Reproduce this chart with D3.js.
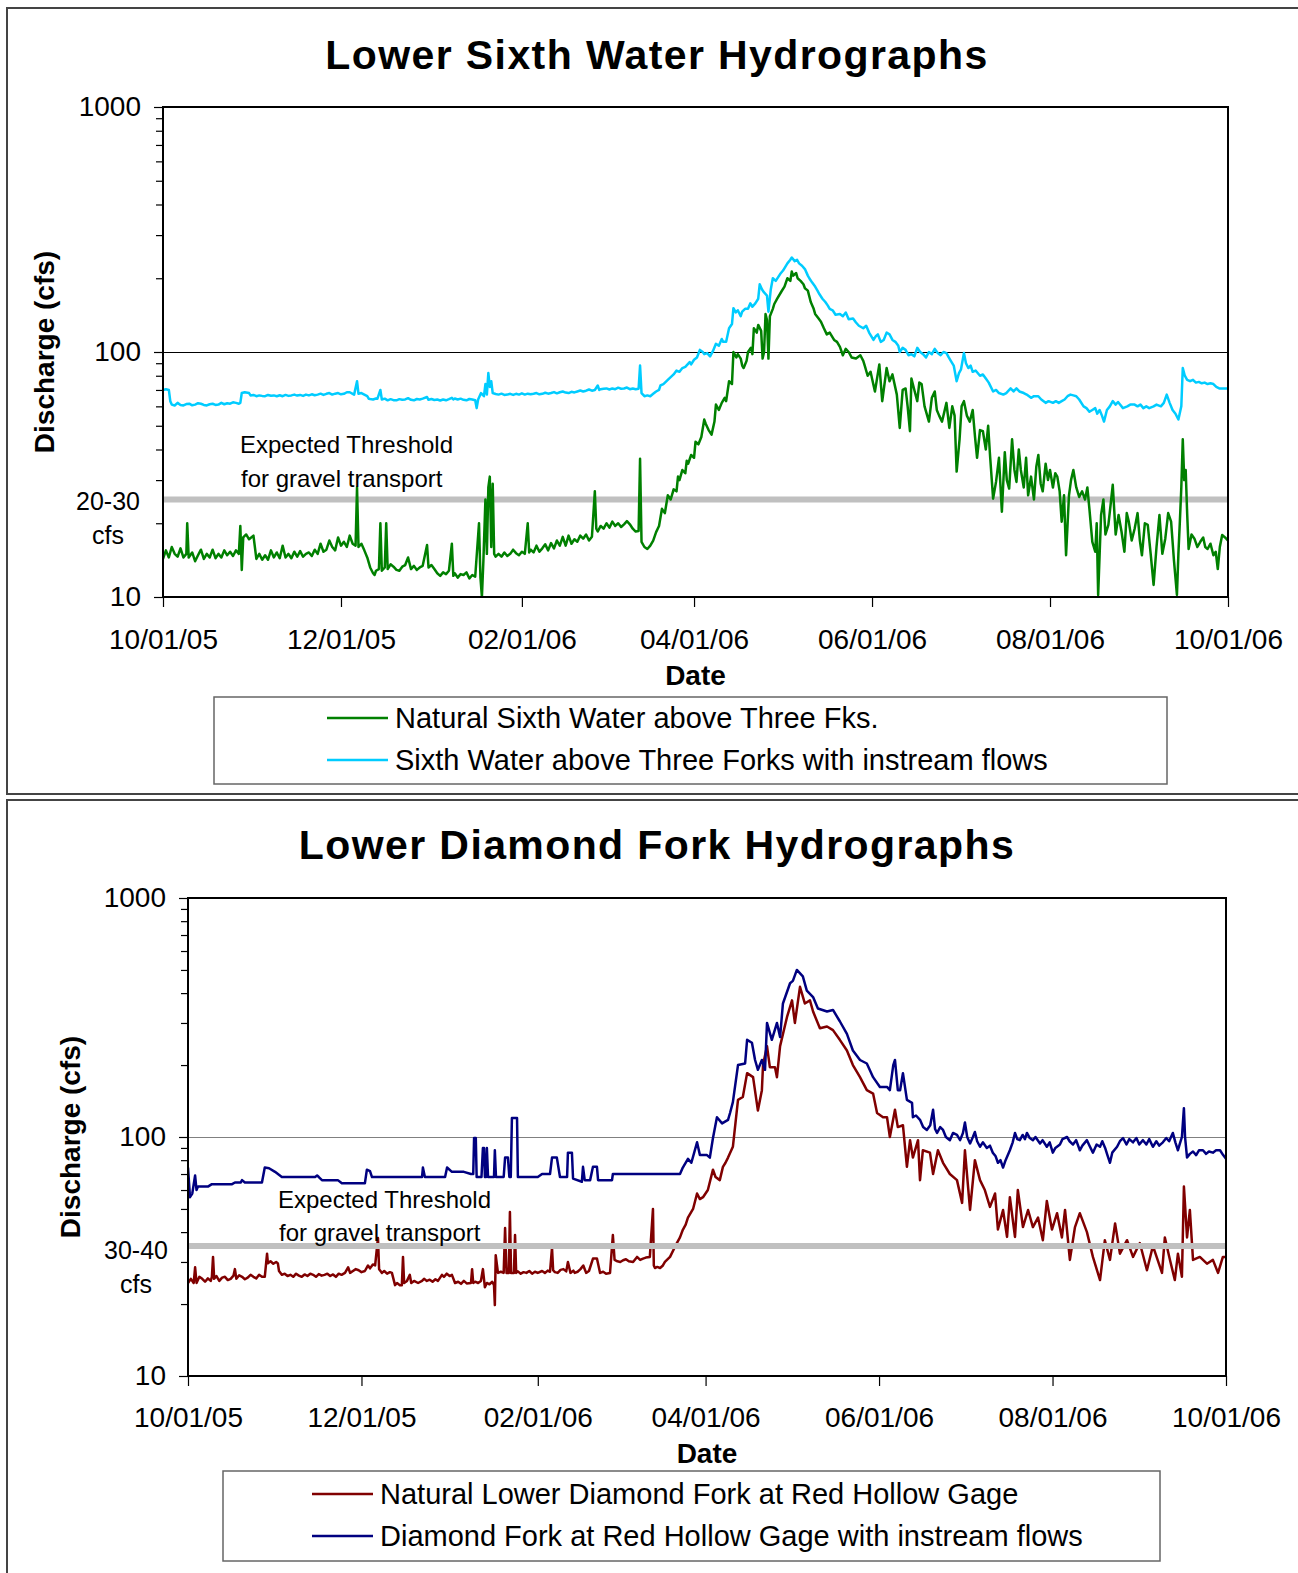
<!DOCTYPE html>
<html>
<head>
<meta charset="utf-8">
<script src="https://cdn.jsdelivr.net/npm/d3@7"></script>
<style>
  body { margin: 0; background: #fff; }
  svg { display: block; }
  text { font-family: "Liberation Sans", Arial, sans-serif; fill: #000; }
</style>
</head>
<body>
<svg id="chart" width="1298" height="1573"></svg>
<script>
// ---- axis values ----
const tickDates = ["2005-10-01", "2005-12-01", "2006-02-01", "2006-04-01", "2006-06-01", "2006-08-01", "2006-10-01"];
const majorTicks = [10, 100, 1000];
const minorTicks = [20, 30, 40, 50, 60, 70, 80, 90, 200, 300, 400, 500, 600, 700, 800, 900];

// ---- gravel transport thresholds (cfs) ----
const sixthThreshold = 25;
const diamondThreshold = 35;

// ---- discharge, [days since 10/01/05, cfs] ----
const sixthNatural = [[0,14.3],[1,15.5],[2,14.5],[3,16],[4,15],[5,14.6],[6,15.8],[7,14.5],[8,15],[8.3,20],[8.8,14.5],[10,15.2],[11,14],[12,14.8],[13,15.6],[14,14.3],[15,15],[16,14.5],[17,15.6],[18,14.4],[19,15],[20,14.5],[21,15.5],[22,14.8],[23,15.3],[24,14.7],[25,15.5],[26,15],[26.5,19.5],[27,12.9],[27.5,17.5],[28.5,18],[29.5,17.2],[31,17.8],[32,14.3],[33,15],[34,14.2],[35,14.8],[36,14.2],[37,15.5],[38,14.5],[39,15.2],[40,14.4],[41,16.2],[42,14.5],[43,15],[44,14.4],[45,15.3],[46,14.6],[47,15.4],[48,14.6],[49,15],[50,15.2],[51,14.7],[52,15.6],[53,15],[54,16.5],[55,15.3],[56,15.6],[57,17],[58,16],[59,15.5],[60,17.5],[61,16.2],[62,16.8],[63,16],[64,17.8],[65,16.5],[66,16.2],[66.5,28],[67,16],[68,16.5],[69,15.5],[70,14.5],[71,13.2],[72,12.5],[72.5,12.3],[73,12.8],[74,13],[74.5,20],[75,12.8],[76,13.2],[76.5,20],[77,13],[78,13.6],[79,13.3],[80,12.9],[81,12.8],[82,13.3],[83,13.5],[84,14.5],[85,13],[86,13.4],[87,12.9],[88,13.2],[89,13.4],[90.5,16.3],[91,13.2],[92,13.5],[93,13],[94,12.5],[95,12.2],[96,12.6],[97,12.4],[98,12.8],[99,16.5],[99.5,12.2],[100,12.5],[101,12],[102,12.4],[103,12.3],[104,12.6],[105,11.9],[106,12.3],[107,12.1],[108.3,20],[108.8,12],[109.3,10],[109.8,14],[110.5,25],[111,15],[111.5,28],[112,31],[112.5,16],[113,29],[113.5,15],[114,14.6],[115,15],[116,14.6],[117,15.2],[118,14.7],[119,15],[120,15.6],[121,15.1],[122,14.8],[123,15.3],[124,15],[125,20],[125.5,15.2],[126,15.6],[127,15.2],[128,16.2],[129,15.3],[130,15.8],[131,16.4],[132,15.5],[133,16.6],[134,15.8],[135,17],[136,16.2],[137,17.6],[138,16.2],[139,17.8],[140,16.5],[141,17.2],[142,16.8],[143,17.8],[144,17.3],[145,18],[146,17],[147,17.6],[148,27],[148.5,19],[149,18.5],[150,19.5],[151,19],[152,20],[153,19.2],[154,20.3],[155,19.5],[156,20],[157,19.3],[158,19.8],[159,20.4],[160,19.8],[161,19],[162,18.5],[163,18.6],[163.5,36.7],[164,16.8],[165,16],[166,15.7],[167,16.2],[168,17],[169,18.4],[170,19.5],[171,22.9],[172,22],[173,26],[174,25],[175,27.5],[176,27],[176.5,31],[177,30],[178,33],[179,32],[179.5,36],[180,35],[181,38],[182,37],[182.5,43],[183.5,42],[184.5,45],[185.5,53],[186,51],[187,48],[188,46],[189,52],[189.5,61],[190.5,58],[191.5,62],[192.5,65],[193,63],[194,76],[195,74],[195.5,100],[196.5,95],[197,98],[198,94],[198.5,88],[199,86],[200,92],[200.5,100],[201.5,104],[202,98],[202.5,125],[203.5,120],[204,129],[205,122],[205.5,94],[206,100],[206.5,143],[207,135],[207.5,94],[208,140],[209,150],[209.5,157],[210.5,165],[212,177],[213,185],[214,200],[215,195],[215.5,213],[216,205],[217,210],[217.5,200],[218.5,195],[219.5,189],[220,182],[221,178],[222,160],[223,150],[223.5,143],[224.5,138],[225.5,133],[226.5,125],[227.5,118],[228.5,120],[230,112],[231,110],[232,105],[233,97],[234,103],[235,100],[236,95],[237.5,94],[239,97],[240,92],[240.5,88],[241.5,80],[242.5,83],[243,78],[244,69],[245.5,89],[246.5,63],[248,86],[249,76],[250,81],[251.5,67],[252.5,49],[253.5,70],[254.5,71],[255.2,60],[256,47.5],[256.5,78],[257.5,70],[258.5,63],[259.2,75],[260,74],[261,60],[262.5,52],[263.5,65],[264.5,69],[265.2,58],[266,55],[267,52],[268.5,62],[269.5,49],[270.5,60],[271.3,55],[272,32.5],[273,44],[273.7,60],[274.5,63],[275.5,55],[276.5,52],[277.5,58],[278.3,45],[279,37],[280,48],[281,47.5],[282,40],[282.8,50],[283.5,37],[284.5,25.2],[285.5,29.5],[286.5,37],[287.5,22.3],[288.5,39],[289.2,30],[290,27.7],[291,44],[291.8,33],[292.5,29.5],[293.3,40],[294,33],[295,28],[295.8,37],[296.5,26],[297.5,31],[298.5,25],[299.3,34],[300,38],[300.8,29],[301.5,27],[302.5,35],[303.3,30],[304,33],[305,28],[305.8,32],[306.5,31],[307.3,27],[308,20.3],[308.8,26],[309.5,14.8],[310.5,26],[311.2,30],[312,33],[313,28],[314,25.6],[315,27],[316,25],[316.8,28],[317.5,22.9],[318.5,16.8],[319.5,15.3],[320,20],[320.5,10.2],[321.5,21.6],[322.3,25],[323,18],[324,19.7],[324.8,24],[325.5,28.7],[326.5,18],[327.5,21.6],[328.5,18.5],[329.5,15.3],[330.3,22],[331,20.3],[332,17],[333,19],[334,22],[334.8,17],[335.5,14.8],[336.5,20],[337.5,19.7],[338.5,15],[339.5,11.2],[340.5,16],[341.5,21.6],[342.5,15],[343.5,17.3],[344.5,22],[345.5,20.3],[346.5,14],[347.5,10.2],[348,15],[348.5,20.3],[349,28],[349.5,44],[350,30],[350.5,33],[351,22],[351.5,15.7],[352.5,18],[353.5,17.3],[354.5,16],[355.5,16.8],[356.5,17.5],[357.2,16],[358,15.7],[359,16.5],[360,14.8],[360.8,15.3],[361.5,13],[362.2,16],[363,17.9],[364,17.5],[365,17]];

const sixthInstream = [[0,70],[1,70.5],[2,70],[2.5,63],[3,61],[4,60.5],[5,62],[6,60.8],[7,60.5],[8,61.3],[9,61.5],[10,60.6],[11,61],[12,61.8],[13,61.5],[14,60.8],[15,60.5],[16,61.2],[17,61.5],[18,60.8],[19,61],[20,62],[21,61.2],[22,61.8],[23,61.5],[24,62.3],[25,62],[26,61.5],[26.5,62],[27,68],[28,68.5],[29.5,68],[30,66.5],[31,66.8],[32,66],[33,66.5],[34,66.2],[35,66],[36,66.8],[37,66.3],[38,66.5],[39,66],[40,66.6],[41,66],[42,66.8],[43,66.2],[44,66.5],[45,67],[46,66.4],[47,66.8],[48,66.2],[49,67],[50,66.5],[51,67.2],[52,66.6],[53,67],[54,67.6],[55,66.8],[56,67.5],[57,68],[58,67],[59,67.6],[60,68],[61,67.2],[62,67.5],[63,68.5],[64,68.5],[65,67.5],[65.5,67],[66.5,76],[67,67.5],[68,68],[69,67],[70,66],[70.5,64.5],[71,64.3],[72,64],[73,64.6],[73.5,64.5],[74.5,70],[75,64],[76,64.5],[77,63.5],[78,64.2],[79,63.6],[80,63.5],[81,64.2],[82,63.8],[83,64],[84,64.8],[85,63.8],[86,63.5],[87,64.3],[88,64],[89,64.5],[90.5,65.5],[91,63.8],[92,64.3],[93,63.7],[94,64],[95,63.4],[96,64],[97,63.5],[98,64.2],[99,65],[99.5,64],[100,64.6],[101,64],[102,64.5],[103,63.8],[104,63.5],[105,64.3],[106,64],[107,63.5],[107.5,59],[108,64],[109,68],[110,66],[110.5,74],[111,67],[111.5,82],[112,72],[112.5,76],[113,68],[114,67.4],[115,67],[116,67.6],[117,66.8],[118,67],[119,67.5],[120,66.8],[121,67.5],[122,67],[123,67.8],[124,67],[125,67.6],[126,67.2],[127,67.5],[128,68],[129,67.2],[130,67.5],[131,68.2],[132,67.6],[133,68],[134,68.6],[135,67.8],[136,68.5],[137,69],[138,68.3],[139,68],[140,68.8],[141,68.4],[142,69],[143,69.6],[144,69],[145,69.5],[146,70.3],[147,69.5],[148,70],[149,73],[149.5,70],[150,70.5],[151,70.8],[152,71],[153,70.3],[154,71],[155,70.5],[156,71.5],[157,70.8],[158,71],[159,71.6],[160,70.5],[161,71],[162,70.5],[163,70.8],[163.5,88],[164,68],[165,66],[166,66.5],[167,66],[168,67.5],[169,69],[170,70],[170.5,73],[171.5,74],[173,77],[174,79],[175,81],[176,84],[177,83],[178,86],[179,87],[180.5,91],[181,89],[182,93],[183,95],[184,102],[185,100],[185.5,98],[186.5,99],[187.5,96],[188.5,101],[189.5,108],[190.5,106],[191.5,113],[192,110],[193,110],[194,125],[195,130],[195.5,151],[196.3,145],[197,148],[198,140],[198.5,146],[199.5,150],[200.5,150],[201.3,158],[202,153],[203,158],[204,165],[204.5,189],[205.3,180],[206,175],[207,170],[207.5,146],[208.3,180],[209,200],[210,195],[211.5,208],[212.5,215],[214,230],[215,238],[215.5,243],[216.5,235],[217.3,238],[218,230],[219,225],[220,218],[221,205],[221.5,200],[222.5,192],[223.5,185],[224.3,178],[225,172],[226,165],[227,160],[227.8,155],[228.5,150],[229.5,148],[230.5,142],[232,143],[233,140],[234,145],[235,136],[236.5,137],[237.5,132],[238.5,128],[240,125],[241,128],[242,120],[243.5,112],[244.3,116],[245,118],[246,110],[247,112],[248,120],[249,118],[250,112],[251,110],[252,106],[252.5,100],[253.5,104],[254.5,102],[255.5,97],[256.5,98],[257.5,96],[258.5,104],[259.5,100],[260.5,98],[261.5,95],[262.5,100],[263.5,98],[264.5,103],[265.5,99],[266.5,97],[267.5,100],[268.5,99],[269.3,95],[270,92],[271,88],[272,76],[272.8,82],[273.5,85],[274.5,99],[275.2,90],[276,86],[276.8,88],[277.5,83],[278.5,84],[280,80],[281,81],[282,78],[283,75],[284.5,69],[285.5,70],[286.5,68],[288,67],[289,68],[290.5,71],[291.5,69],[292.5,71],[293.5,69],[295,68],[296,67],[297.5,65],[298.5,66],[300,66],[301,64],[302.5,62],[303.5,63],[305,62],[306,63],[307,62],[308,63],[309,64],[310,66],[311,67],[312,66.5],[313,66],[314,64],[315.5,60],[316.5,59],[317.5,57],[318.5,58],[319.5,59],[320.2,56],[321,58],[321.8,55],[322.5,52],[323.5,58],[324.5,60],[325.5,63],[326.5,61],[327.3,62.5],[328,61],[329,59],[330.5,60],[331.5,61],[333,61],[334,60],[335,61],[336,59],[337,60],[338,59],[339.5,60],[340.5,61],[342,60],[343,62],[344,67],[345,62],[346,58],[347,56],[348,53],[349,60],[349.5,86],[350.2,80],[351,77],[352,76],[353,77],[354,75],[355,75.5],[356,74.5],[357,75],[358,74],[359,74.5],[360,74],[361,72],[362,71],[363,71],[364,71],[365,71]];

const diamondNatural = [[0,24.5],[1,25.5],[2,24.5],[2.5,28.5],[3,24.5],[4,26],[5,25.5],[6,24.8],[7,25.6],[8,25],[8.4,26],[8.8,31.5],[9.2,25.5],[10,26.2],[11,25],[12,25.8],[13,26],[14,25.2],[15,25.5],[16,26.3],[16.5,28],[17,25.5],[18,26.4],[19,26],[20,25.4],[21,25.8],[22,26.5],[23,26],[24,25.6],[25,26.5],[26,26],[27,26],[27.8,32.5],[28.1,29.6],[29,30.2],[30,29.5],[31,30],[31.6,29.6],[32,27.5],[33,26.5],[34,26.8],[35,26.2],[36,26.5],[37,26],[38,26.8],[39,26.3],[40,26],[41,26.6],[42,26.2],[43,26.8],[44,26.5],[45,26],[46,26.7],[47,26.3],[48,26.5],[49,26.8],[50,26.2],[51,26.6],[52,26],[53,26.8],[54,26.5],[55.2,27],[56.3,28.5],[57,27],[58,27.5],[59,28],[60,27.7],[61,27.2],[62.2,27.5],[63.3,29],[64,28.2],[65,29.3],[65.8,29],[66.8,37.8],[67.2,28],[68.2,27],[69,27.5],[70,26.8],[71,27.2],[71.7,27],[72.8,24],[73.5,24.5],[74.5,24],[75.2,24],[75.6,31.5],[76,24.5],[77,25],[78,26.5],[78.5,24.5],[79.5,25],[80.9,24.5],[82.3,25],[83,25.5],[84,25],[85,25.3],[86,24.8],[87,25.4],[87.9,25],[89.3,26.5],[90,26],[91,26.8],[92,26.2],[92.8,26.5],[93.9,24.5],[95,24.8],[96,24.3],[97,25],[98,24.4],[99.5,24.5],[99.9,28],[100.3,24.5],[101,24.8],[102,24.5],[103,25],[103.7,28],[104.4,23.5],[105.1,24.5],[106,24.2],[107,24.8],[107.6,24],[107.9,19.8],[108.2,32],[109,27],[110,27.3],[111,27],[111.5,41.6],[112,27],[112.8,27],[113.2,48.5],[113.6,27],[114.6,27],[115,38.9],[115.4,27],[116,27.4],[117,26.8],[118,27.2],[119,27],[120,27.5],[121,26.8],[122,27.3],[123,27],[124.5,27.5],[125.5,27],[126.5,27.6],[127.3,27.3],[128,34.4],[128.4,27.7],[129,27.2],[130,27],[131,27.8],[132,28],[133,27.4],[133.6,30],[134.5,27],[135.5,27.6],[136,27],[137,27.3],[138,28],[139,29],[140,27],[141,27.5],[142.4,31],[143.8,31],[144.9,27],[146,27.3],[147,26.8],[148.4,27],[149.4,38.9],[150,30.6],[151,30.2],[152,30],[153,30.5],[154,30.8],[155,30.2],[156.5,30],[157.9,31.5],[159,30.6],[160,31],[161,31.3],[162.4,31.5],[163.5,50],[163.8,29],[164.2,28.3],[165,28.6],[166,28.3],[167,29],[167.7,30],[169.5,31.5],[171.9,36],[173,38],[174,40.9],[175,43],[175.8,46],[177.6,50],[179,58],[180,55],[181.1,56],[182.8,60],[184.6,73],[185.5,68],[187,66],[188.1,75],[189,78],[189.9,82],[191.6,91],[193.4,143],[195.1,147],[196.6,185],[198.7,178],[200.4,129],[201.8,157],[202.2,200],[203.6,240],[204.6,196],[206.4,196],[207.1,178],[208.2,240],[210.7,320],[212.4,373],[213.4,300],[215.2,425],[216.9,362],[218.7,373],[219.8,335],[222.2,285],[224.7,290],[226.8,280],[229.2,255],[231.7,230],[233.8,200],[236.3,178],[238.7,157],[240.9,152],[242.3,126],[244.4,121],[245.8,121],[246.8,100],[248.6,130],[249.6,110],[251.4,112],[252.8,75],[253.9,97],[254.9,82],[256.7,97],[257.4,66],[258.4,88],[260.9,86],[262,70],[263.7,88],[265.5,78],[267.9,70],[270.4,66],[272.2,53],[273.2,88],[275,49.5],[276.7,80],[278.5,66],[280.2,60],[282,51],[283.8,58],[284.8,41],[286.6,49.5],[288,38.2],[289,56],[290.8,38.2],[291.8,60],[293.6,42],[295.4,49.5],[297.1,42],[298.9,46],[300.6,37],[302,54],[303.8,41],[305.6,48],[307.3,38],[308.4,49.5],[310.1,30.6],[311.9,42],[313.6,48],[316.1,40],[318.2,31.5],[320.7,25.2],[322.4,37],[324.2,30.6],[326,43.5],[327.7,32.5],[330.2,37],[332.3,31.5],[334.7,36],[337.2,27.7],[339.3,35],[342.5,27],[343.5,38],[345.3,30.6],[347,25.2],[348.1,32.5],[349.5,26],[350.2,62],[351.3,38],[352.3,49.5],[353.4,30.6],[355.8,31.5],[358.3,29.5],[360.4,30.6],[362.2,27],[363.9,31.5],[365,31.5]];

const diamondInstream = [[0,74.5],[0.7,56],[1.5,58],[2.5,69],[3,60],[3.5,62],[7,62],[8.4,63.5],[15.5,63.5],[16.5,64.5],[18.5,64.5],[19,66],[20,64.5],[22.5,64.5],[26,64.5],[27,74.5],[28.5,74],[30.6,71.5],[33,68],[44.7,68],[45.4,69],[46,68],[47.1,66],[52.7,66],[54.1,64],[62.2,64],[62.9,73],[64,72],[64.7,68],[80,68],[82.3,68],[82.6,74.5],[83.3,68],[90.4,68],[91.1,74.5],[92.8,71.5],[97,71.5],[99.5,70],[100.3,70],[100.6,99],[101.2,99],[101.5,68],[103.2,68],[103.7,90],[104.1,90],[104.4,68],[104.8,68],[105.1,90],[105.5,68],[107.6,68],[107.9,88],[108.3,68],[111,68],[111.5,82],[112.5,82],[113,68],[113.5,68],[113.9,120],[115.7,120],[116,68],[123,68],[124.5,70],[127.3,70],[128,82],[129.7,82],[130.8,68],[133.3,68],[133.6,86],[135,86],[135.4,67],[138.5,65],[138.9,75],[139.5,66],[140.3,66],[141.4,66],[142.4,75],[143.8,75],[144.2,66],[149.1,66],[149.4,70],[173,70],[174,74.5],[175.8,81],[177,78],[179,95],[180,84],[182.5,84],[183.5,82],[184.6,99],[186,121],[187.8,114],[189.9,118],[190.6,126],[191.6,140],[193.4,200],[195.9,203],[196.6,255],[198.3,248],[199.4,210],[200.4,191],[201.8,210],[202.9,191],[203.6,300],[205.3,255],[207.1,300],[208.2,262],[209.2,362],[211.7,440],[212.7,450],[214.1,500],[216.2,470],[217.6,410],[219.8,385],[221.5,345],[224.7,335],[226.8,340],[229.2,305],[231.7,270],[233.8,230],[236.3,210],[238.7,203],[240.9,178],[243.3,162],[245.8,162],[246.8,157],[248,200],[248.6,210],[249.6,157],[250.4,157],[251.4,185],[252.8,143],[254.6,139],[254.9,121],[256,123],[257.4,118],[258.5,110],[259.8,107],[261,112],[262,130],[262.7,108],[263.4,104],[264.5,110],[265.5,107],[266.5,100],[267.9,97],[269,104],[270.4,102],[271.5,97],[272.5,104],[273.2,115],[274,100],[275,94],[276,100],[276.7,105],[277.5,96],[278.5,91],[279.5,95],[280.9,90],[282,92],[283,86],[284,83],[284.8,78],[285.7,80],[286.6,74.5],[287.5,80],[289,88],[290,95],[290.8,104],[291.6,98],[292.5,97],[293.5,102],[294.3,98],[295,104],[296,99],[297.1,97],[298,100],[299.6,94],[300.5,97],[302,91],[303,95],[304.1,86],[305,90],[306.6,93],[307.5,98],[309.1,100],[310,96],[311.2,93],[312.3,97],[313.6,88],[314.5,92],[316.1,97],[317,92],[318.2,86],[319.5,93],[320.7,91],[321.5,96],[322.5,90],[323.3,84],[324.2,78],[325,86],[326.7,91],[327.7,96],[328.8,99],[330,93],[331,98],[332.3,95],[333.5,99],[334.5,93],[335.8,97],[337,93],[338,98],[339.3,91],[340.5,96],[341.5,92],[342.8,95],[344,99],[345,96],[346.3,104],[347.2,95],[348.1,88],[348.8,94],[349.5,100],[350.2,132],[350.6,100],[351.3,82],[352.3,85],[353.4,87],[354.5,84],[355.5,88],[356.9,88],[358,85],[359,87],[360.4,86],[361.5,88],[362.9,88],[364,84],[365,81]];

// ---- drawing ----
const svg = d3.select("#chart");
const parseDate = d3.utcParse("%Y-%m-%d");
const startDate = parseDate(tickDates[0]);
const endDate = parseDate(tickDates[tickDates.length - 1]);
const dayToDate = d => new Date(startDate.getTime() + d * 864e5);

function drawPanel(o) {
  const x = d3.scaleUtc().domain([startDate, endDate]).range([o.left, o.right]);
  const y = d3.scaleLog().domain([10, 1000]).range([o.bottom, o.top]);

  // outer frame of the chart area
  svg.append("rect")
    .attr("x", 7).attr("y", o.frameTop)
    .attr("width", 1310).attr("height", o.frameHeight)
    .attr("fill", "none").attr("stroke", "#444").attr("stroke-width", 2);

  // title
  svg.append("text")
    .attr("x", 657).attr("y", o.titleY)
    .attr("text-anchor", "middle")
    .style("font-size", "41px").style("font-weight", "bold")
    .style("letter-spacing", "1.4px")
    .text(o.title);

  const clipId = "clip-" + o.id;
  svg.append("clipPath").attr("id", clipId)
    .append("rect")
    .attr("x", o.left).attr("y", o.top)
    .attr("width", o.right - o.left).attr("height", o.bottom - o.top);

  // 100 cfs grid line
  svg.append("line")
    .attr("x1", o.left).attr("x2", o.right)
    .attr("y1", y(100) + 0.5).attr("y2", y(100) + 0.5)
    .attr("stroke", o.gridColor).attr("stroke-width", 1);

  const band = () => svg.append("line")
    .attr("x1", o.left).attr("x2", o.right)
    .attr("y1", y(o.threshold)).attr("y2", y(o.threshold))
    .attr("stroke", "#c0c0c0").attr("stroke-width", 6);

  if (!o.bandOnTop) band();

  const line = d3.line()
    .x(d => x(dayToDate(d[0])))
    .y(d => y(d[1]));

  const plot = svg.append("g").attr("clip-path", `url(#${clipId})`);
  o.series.forEach(s => {
    plot.append("path")
      .datum(s.values)
      .attr("fill", "none")
      .attr("stroke", s.color)
      .attr("stroke-width", 2.5)
      .attr("stroke-linejoin", "round")
      .attr("d", line);
  });

  if (o.bandOnTop) band();

  // plot border
  svg.append("rect")
    .attr("x", o.left).attr("y", o.top)
    .attr("width", o.right - o.left).attr("height", o.bottom - o.top)
    .attr("fill", "none").attr("stroke", "#000").attr("stroke-width", 2);

  // y axis: minor and major ticks
  const yMinor = svg.append("g")
    .attr("transform", `translate(${o.left},0)`)
    .call(d3.axisLeft(y).tickValues(minorTicks).tickSize(7).tickFormat(""));
  yMinor.select(".domain").remove();
  yMinor.selectAll("line").attr("stroke", "#000").attr("stroke-width", 1.2);

  const yMajor = svg.append("g")
    .attr("transform", `translate(${o.left},0)`)
    .call(d3.axisLeft(y).tickValues(majorTicks).tickSize(9).tickPadding(13).tickFormat(d3.format("d")));
  yMajor.select(".domain").remove();
  yMajor.selectAll("line").attr("stroke", "#000").attr("stroke-width", 1.2);
  yMajor.selectAll("text")
    .attr("font-family", null)
    .style("font-size", "28px").attr("fill", "#000");

  // x axis
  const xAxis = svg.append("g")
    .attr("transform", `translate(0,${o.bottom})`)
    .call(d3.axisBottom(x)
      .tickValues(tickDates.map(parseDate))
      .tickSize(10).tickPadding(o.xPad)
      .tickFormat(d3.utcFormat("%m/%d/%y")));
  xAxis.select(".domain").remove();
  xAxis.selectAll("line").attr("stroke", "#000").attr("stroke-width", 1.2);
  xAxis.selectAll("text")
    .attr("font-family", null)
    .style("font-size", "28px").attr("fill", "#000");

  // threshold range label next to the axis
  const ty = y(o.threshold);
  svg.append("text")
    .attr("x", o.rangeX).attr("y", ty + o.rangeDy[0])
    .attr("text-anchor", "middle").style("font-size", "25px")
    .text(o.rangeLabel);
  svg.append("text")
    .attr("x", o.rangeX).attr("y", ty + o.rangeDy[1])
    .attr("text-anchor", "middle").style("font-size", "25px")
    .text("cfs");

  // threshold annotation
  svg.append("text")
    .attr("x", o.noteX).attr("y", ty + o.noteDy[0])
    .style("font-size", "24px")
    .text("Expected Threshold");
  svg.append("text")
    .attr("x", o.noteX + 1).attr("y", ty + o.noteDy[1])
    .style("font-size", "24px")
    .text("for gravel transport");

  // axis titles
  svg.append("text")
    .attr("x", (o.left + o.right) / 2).attr("y", o.dateY)
    .attr("text-anchor", "middle")
    .style("font-size", "28px").style("font-weight", "bold")
    .text("Date");
  svg.append("text")
    .attr("transform", `translate(${o.yTitleX},${(o.top + o.bottom) / 2}) rotate(-90)`)
    .attr("text-anchor", "middle")
    .style("font-size", "28px").style("font-weight", "bold")
    .text("Discharge (cfs)");

  // legend
  const L = o.legend;
  svg.append("rect")
    .attr("x", L.x).attr("y", L.y).attr("width", L.w).attr("height", L.h)
    .attr("fill", "#fff").attr("stroke", "#666").attr("stroke-width", 1.5);
  o.series.forEach((s, i) => {
    const cy = L.y + L.row0 + i * L.rowStep;
    svg.append("line")
      .attr("x1", L.lineX).attr("x2", L.lineX + 61)
      .attr("y1", cy).attr("y2", cy)
      .attr("stroke", s.color).attr("stroke-width", 2.5);
    svg.append("text")
      .attr("x", L.lineX + 68).attr("y", cy + 10)
      .style("font-size", "29px")
      .text(s.name);
  });
}

drawPanel({
  id: "sixth",
  title: "Lower Sixth Water Hydrographs",
  titleY: 69,
  frameTop: 8, frameHeight: 786,
  left: 163, right: 1228, top: 107, bottom: 597,
  gridColor: "#000",
  threshold: sixthThreshold, bandOnTop: false,
  rangeLabel: "20-30", rangeX: 108, rangeDy: [10, 44],
  noteX: 240, noteDy: [-47, -13],
  xPad: 22, dateY: 685, yTitleX: 54,
  series: [
    { name: "Natural Sixth Water above Three Fks.", color: "#008000", values: sixthNatural },
    { name: "Sixth Water above Three Forks with instream flows", color: "#00ccff", values: sixthInstream }
  ],
  legend: { x: 214, y: 697, w: 953, h: 87, row0: 21, rowStep: 42, lineX: 327 }
});

drawPanel({
  id: "diamond",
  title: "Lower Diamond Fork Hydrographs",
  titleY: 859,
  frameTop: 800, frameHeight: 800,
  left: 188, right: 1226, top: 898, bottom: 1376,
  gridColor: "#808080",
  threshold: diamondThreshold, bandOnTop: true,
  rangeLabel: "30-40", rangeX: 136, rangeDy: [13, 47],
  noteX: 278, noteDy: [-38, -5],
  xPad: 21, dateY: 1463, yTitleX: 80,
  series: [
    { name: "Natural Lower Diamond Fork at Red Hollow Gage", color: "#800000", values: diamondNatural },
    { name: "Diamond Fork at Red Hollow Gage with instream flows", color: "#000080", values: diamondInstream }
  ],
  legend: { x: 223, y: 1471, w: 937, h: 90, row0: 23, rowStep: 42, lineX: 312 }
});
</script>
</body>
</html>
